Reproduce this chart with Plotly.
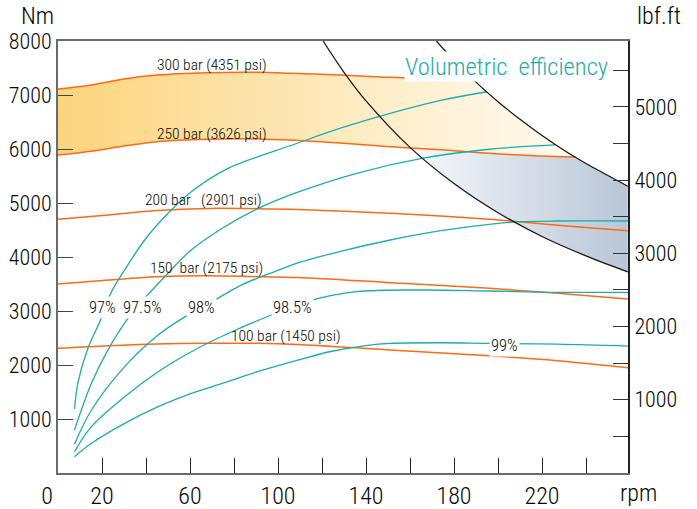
import plotly.graph_objects as go

# ---------------- data ----------------
# pressure curves: torque (Nm) vs speed (rpm)
p300_rpm = [0, 15, 30, 45, 68, 91, 105, 128, 151, 174, 189]
p300_nm = [7110, 7185, 7296, 7370, 7413, 7420, 7405, 7370, 7328, 7296, 7270]

p250_rpm = [0, 15, 30, 45, 68, 91, 105, 128, 151, 160, 174, 196, 219, 235]
p250_nm = [5890, 5960, 6055, 6135, 6180, 6185, 6165, 6110, 6040, 6020, 5985, 5920, 5870, 5850]

p200_rpm = [0, 23, 45, 68, 91, 109, 151, 196, 227, 259]
p200_nm = [4700, 4780, 4860, 4900, 4895, 4880, 4810, 4700, 4590, 4487]

p150_rpm = [0, 23, 45, 68, 91, 109, 151, 196, 227, 259]
p150_nm = [3500, 3574, 3635, 3654, 3635, 3620, 3524, 3420, 3328, 3222]

p100_rpm = [0, 23, 45, 68, 91, 109, 151, 196, 227, 259]
p100_nm = [2309, 2358, 2389, 2401, 2401, 2380, 2278, 2172, 2080, 1950]

# volumetric efficiency curves
ve97_rpm = [7.5, 9, 13.6, 19.7, 24, 30.3, 39.4, 50, 60.6, 75.8, 91, 105.5, 128, 151, 174, 195]
ve97_nm = [1180, 1660, 2310, 2865, 3330, 3760, 4315, 4810, 5210, 5610, 5860, 6060, 6380, 6660, 6900, 7060]

ve975_rpm = [7.5, 15.2, 22.7, 31.8, 39.4, 50, 60.6, 75.8, 91, 109, 135.8, 166, 196, 226]
ve975_nm = [796, 1660, 2280, 2865, 3235, 3700, 4130, 4560, 4900, 5200, 5550, 5830, 5995, 6075]

ve98_rpm = [7.5, 15.2, 30.3, 45.5, 59, 71.2, 83.3, 98.5, 109, 128, 151, 174, 196, 208.5, 226.7, 259]
ve98_nm = [531, 1167, 1970, 2555, 2925, 3200, 3480, 3730, 3890, 4100, 4315, 4487, 4605, 4650, 4667, 4667]

ve985_rpm = [7.5, 15.2, 30.3, 45.5, 60.6, 75.8, 97, 114.5, 135.8, 166, 196, 226.7, 259]
ve985_nm = [395, 858, 1413, 1876, 2246, 2555, 2926, 3191, 3358, 3389, 3370, 3346, 3346]

ve99_rpm = [7.5, 15.2, 30.3, 45.5, 60.6, 75.8, 91, 109, 124, 140, 151, 174, 196, 227, 259]
ve99_nm = [302, 550, 920, 1228, 1476, 1672, 1880, 2090, 2250, 2360, 2400, 2412, 2400, 2385, 2350]

# constant power curves
kw101_rpm = [120.5, 130, 140, 160, 180, 200, 220, 240, 259]
kw101_nm = [8000, 7420, 6890, 6030, 5360, 4820, 4380, 4020, 3724]

kw144_rpm = [172, 180, 189, 200, 210, 220, 226, 235, 240, 259]
kw144_nm = [8000, 7640, 7275, 6875, 6550, 6250, 6085, 5850, 5730, 5310]

blue_start_rpm = 160  # where 101 kW meets the 250 bar curve

pressure_labels = ["300 bar (4351 psi)", "250 bar (3626 psi)", "200 bar\u00a0\u00a0\u00a0(2901 psi)",
                   "150\u00a0\u00a0bar (2175 psi)", "100 bar (1450 psi)"]
efficiency_labels = ["97%", "97.5%", "98%", "98.5%", "99%"]
power_labels = ["101kw", "144kw"]

x_tickvals = [0, 20, 40, 60, 80, 100, 120, 140, 160, 180, 200, 220, 240]
x_ticktext = ["0\u00a0\u00a0\u00a0\u00a0", "20", "", "60", "", "100", "", "140", "", "180", "", "220", ""]
y_tickvals = [1000, 2000, 3000, 4000, 5000, 6000, 7000, 8000]
y2_tickvals = [500, 1000, 1500, 2000, 2500, 3000, 3500, 4000, 4500, 5000, 5500]
y2_ticktext = ["", "1000", "", "2000", "", "3000", "", "4000", "", "5000", ""]
NM_PER_LBFFT = 1.35582

# ---------------- styling ----------------
FONT = "Roboto Condensed, Liberation Sans Narrow, DejaVu Sans Condensed, sans-serif"
W = 300
ORANGE = "#ff6a13"
TEAL = "#19aeb0"
AXIS = "#6a6a6a"
TXT = "#050505"


def f(size, color=TXT):
    return dict(family=FONT, size=size, color=color, weight=W)


fig = go.Figure()

# orange band between 300 and 250 bar, closed by the 144 kW curve
band_x = p300_rpm + [r for r in kw144_rpm if p300_rpm[-1] < r < p250_rpm[-1]] + p250_rpm[::-1]
band_y = p300_nm + [n for r, n in zip(kw144_rpm, kw144_nm) if p300_rpm[-1] < r < p250_rpm[-1]] + p250_nm[::-1]
fig.add_trace(go.Scatter(
    x=band_x, y=band_y, mode="lines", fill="toself", line=dict(width=0),
    fillgradient=dict(type="horizontal",
                      colorscale=[[0, "#fcd47c"], [0.45, "#fde6b3"], [0.8, "#fff4dd"], [1, "#fffbf1"]]),
    hoverinfo="skip"))

# blue-grey region between 101 kW and 144 kW under the 250 bar curve
bx = ([r for r in p250_rpm if r >= blue_start_rpm] + [r for r in kw144_rpm if r > p250_rpm[-1]]
      + [r for r in kw101_rpm if r >= blue_start_rpm][::-1])
by = ([n for r, n in zip(p250_rpm, p250_nm) if r >= blue_start_rpm]
      + [n for r, n in zip(kw144_rpm, kw144_nm) if r > p250_rpm[-1]]
      + [n for r, n in zip(kw101_rpm, kw101_nm) if r >= blue_start_rpm][::-1])
fig.add_trace(go.Scatter(
    x=bx, y=by, mode="lines", fill="toself", line=dict(width=0),
    fillgradient=dict(type="horizontal", colorscale=[[0, "#f7f8fb"], [1, "#b9c6d7"]]),
    hoverinfo="skip"))

for xs, ys in [(p300_rpm, p300_nm), (p250_rpm, p250_nm), (p200_rpm, p200_nm),
               (p150_rpm, p150_nm), (p100_rpm, p100_nm)]:
    fig.add_trace(go.Scatter(x=xs, y=ys, mode="lines",
                             line=dict(color=ORANGE, width=1.5, shape="spline")))

for xs, ys in [(ve97_rpm, ve97_nm), (ve975_rpm, ve975_nm), (ve98_rpm, ve98_nm),
               (ve985_rpm, ve985_nm), (ve99_rpm, ve99_nm)]:
    fig.add_trace(go.Scatter(x=xs, y=ys, mode="lines",
                             line=dict(color=TEAL, width=1.3, shape="spline")))

for xs, ys in [(kw101_rpm, kw101_nm), (kw144_rpm, kw144_nm)]:
    fig.add_trace(go.Scatter(x=xs, y=ys, mode="lines",
                             line=dict(color="#111111", width=1.2, shape="spline")))

# invisible trace to activate the right axis
fig.add_trace(go.Scatter(x=[0], y=[0], yaxis="y2", mode="markers",
                         marker=dict(opacity=0), hoverinfo="skip"))

# ---------------- annotations ----------------
ann = []
press_pos = [(70, 7556), (70, 6278), (66, 5056), (67.5, 3796), (103.6, 2537)]
for t, (x, y) in zip(pressure_labels, press_pos):
    ann.append(dict(x=x, y=y, xref="x", yref="y", text=t, showarrow=False,
                    xanchor="center", yanchor="middle", font=f(15.5)))
eff_pos = [(20, 3056), (38.2, 3056), (65.2, 3056), (106.4, 3056), (203, 2370)]
for t, (x, y) in zip(efficiency_labels, eff_pos):
    ann.append(dict(x=x, y=y, xref="x", yref="y", text=t, showarrow=False,
                    xanchor="center", yanchor="middle",
                    bgcolor="white", borderpad=1, font=f(16.5)))
pow_pos = [(120.5, 8204), (170.9, 8204)]
for t, (x, y) in zip(power_labels, pow_pos):
    ann.append(dict(x=x, y=y, xref="x", yref="y", text=t, showarrow=False,
                    xanchor="center", yanchor="middle", font=f(16)))
ann.append(dict(x=203.9, y=7520, xref="x", yref="y", text="Volumetric\u00a0\u00a0efficiency",
                showarrow=False, bgcolor="white", borderpad=0,
                xanchor="center", yanchor="middle", font=f(24.5, TEAL)))
ann.append(dict(x=-0.036, y=1.057, xref="paper", yref="paper", text="Nm", showarrow=False,
                xanchor="center", yanchor="middle", font=f(24)))
ann.append(dict(x=1.054, y=1.057, xref="paper", yref="paper", text="lbf.ft", showarrow=False,
                xanchor="center", yanchor="middle", font=f(24)))
ann.append(dict(x=1.019, y=-0.046, xref="paper", yref="paper", text="rpm", showarrow=False,
                xanchor="center", yanchor="middle", font=f(24)))

fig.update_layout(
    width=697, height=509,
    margin=dict(l=58, r=69, t=41, b=36, autoexpand=False),
    paper_bgcolor="white", plot_bgcolor="white",
    showlegend=False,
    annotations=ann,
    xaxis=dict(range=[0, 259.09], showgrid=False, zeroline=False,
               showline=True, linecolor=AXIS, linewidth=2, mirror=True,
               ticks="inside", ticklen=15, tickwidth=1.3, tickcolor="#222",
               tickvals=x_tickvals, ticktext=x_ticktext, tickfont=f(24)),
    yaxis=dict(range=[0, 8000], showgrid=False, zeroline=False,
               showline=True, linecolor=AXIS, linewidth=2,
               ticks="inside", ticklen=15, tickwidth=1.3, tickcolor="#444",
               tickvals=y_tickvals, tickfont=f(22)),
    yaxis2=dict(range=[0, 8000 / NM_PER_LBFFT], overlaying="y", side="right",
                showgrid=False, zeroline=False,
                showline=True, linecolor="#222", linewidth=2,
                ticks="inside", ticklen=15, tickwidth=1.3, tickcolor="#333",
                tickvals=y2_tickvals, ticktext=y2_ticktext, tickfont=f(22)),
)

fig.write_html("out.html", config={"displayModeBar": False},
               post_script="document.body.style.margin='0px';document.body.style.padding='0px';")
